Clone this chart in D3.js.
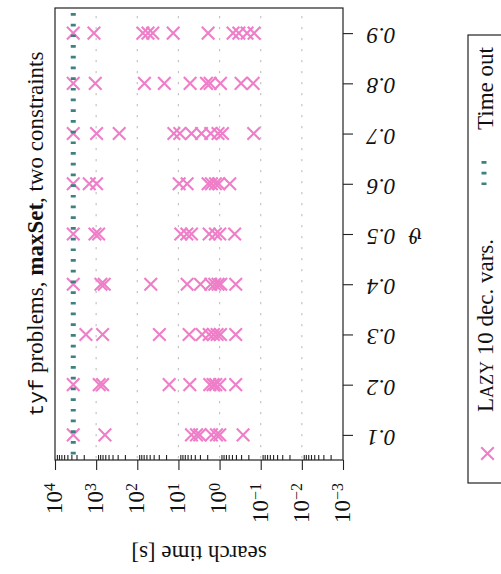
<!DOCTYPE html>
<html><head><meta charset="utf-8">
<script src="https://cdn.jsdelivr.net/npm/d3@7/dist/d3.min.js"></script>
<style>
body{margin:0;background:#fff;}
</style></head><body>
<svg id="chart" width="501" height="574" font-family="'Liberation Serif', 'Times New Roman', 'DejaVu Serif', serif"></svg>
<script>
// ---- data ----
const thetas = [0.1, 0.2, 0.3, 0.4, 0.5, 0.6, 0.7, 0.8, 0.9];
const thetaLabels = ["0.1", "0.2", "0.3", "0.4", "0.5", "0.6", "0.7", "0.8", "0.9"];
const timeExponents = [4, 3, 2, 1, 0, -1, -2, -3];
const timeoutSeconds = 3600;
const lazyTheta01 = [3600, 611, 4.82, 3.64, 3.03, 1.58, 1.19, 0.99, 0.268];
const lazyTheta02 = [3600, 840, 696, 16.8, 5.29, 1.73, 1.44, 1.24, 0.99, 0.405];
const lazyTheta03 = [1770, 696, 29, 5.5, 2.65, 1.79, 1.41, 1.15, 0.95, 0.405];
const lazyTheta04 = [3600, 764, 635, 47, 6.14, 2.91, 1.64, 1.31, 1.09, 0.935, 0.405];
const lazyTheta05 = [3600, 1070, 871, 8.75, 6.25, 4.82, 1.79, 1.26, 0.99, 0.43];
const lazyTheta06 = [3600, 1470, 975, 9.6, 6.14, 1.90, 1.58, 1.26, 1.05, 0.565];
const lazyTheta07 = [3600, 975, 275, 12.9, 9.25, 4.82, 2.75, 1.64, 1.09, 0.85, 0.148];
const lazyTheta08 = [3600, 1050, 67, 22, 5.2, 2.08, 1.7, 0.95, 0.30, 0.153];
const lazyTheta09 = [3600, 1130, 73, 55, 42, 13.4, 1.9, 0.47, 0.34, 0.215, 0.145];

const lazyRows = [lazyTheta01, lazyTheta02, lazyTheta03, lazyTheta04, lazyTheta05,
                  lazyTheta06, lazyTheta07, lazyTheta08, lazyTheta09];
const points = [];
lazyRows.forEach((row, i) => row.forEach(t => points.push({theta: thetas[i], time: t})));

// ---- layout ----
const PINK = "#ef7ec9", TEAL = "#3f8080", INK = "#222";
const svg = d3.select("#chart");
const L = 55, R = 343, T = 8, B = 460;
const x = d3.scaleLog().domain([1e4, 1e-3]).range([L, R]);
const y = d3.scaleLinear().domain([0.05, 0.95]).range([B, T]);

const decades = timeExponents.map(e => Math.pow(10, e));
const minors = [];
for (let e = -3; e < 4; e++) for (let k = 2; k <= 9; k++) minors.push(k * Math.pow(10, e));

// grid
svg.append("g").selectAll("line").data(decades.slice(1, -1)).join("line")
  .attr("x1", d => x(d)).attr("x2", d => x(d)).attr("y1", T).attr("y2", B)
  .attr("stroke", "#c4c4c4").attr("stroke-width", 1.2).attr("stroke-dasharray", "2.2 8.8")
  .attr("stroke-dashoffset", -8);

// markers
const cross = "M-6.3,-6.3L6.3,6.3M-6.3,6.3L6.3,-6.3";
svg.append("g").selectAll("path").data(points).join("path")
  .attr("transform", d => `translate(${x(d.time)},${y(d.theta)})`)
  .attr("d", cross).attr("fill", "none").attr("stroke", PINK).attr("stroke-width", 2.1);

// timeout line
svg.append("line")
  .attr("x1", x(timeoutSeconds)).attr("x2", x(timeoutSeconds))
  .attr("y1", y(0.95)).attr("y2", y(0.05))
  .attr("stroke", TEAL).attr("stroke-width", 5)
  .attr("stroke-dasharray", "2.7 8").attr("stroke-dashoffset", 5.7);

// axes
const gMaj = svg.append("g").attr("transform", `translate(0,${B})`)
  .call(d3.axisBottom(x).tickValues(decades).tickSize(10).tickFormat(""));
const gMin = svg.append("g").attr("transform", `translate(0,${B})`)
  .call(d3.axisBottom(x).tickValues(minors).tickSize(-5).tickFormat(""));
const gTh = svg.append("g").attr("transform", `translate(${R},0)`)
  .call(d3.axisRight(y).tickValues(thetas).tickSize(10).tickFormat(""));
[gMaj, gMin, gTh].forEach(g => {
  g.attr("font-family", null);
  g.select(".domain").remove();
  g.selectAll("line").attr("stroke", INK).attr("stroke-width", 1.1);
});

// frame
svg.append("rect").attr("x", L).attr("y", T).attr("width", R - L).attr("height", B - T)
  .attr("fill", "none").attr("stroke", INK).attr("stroke-width", 1.2);

// log tick labels (rotated, reading upward)
const tl = svg.append("g").selectAll("text").data(timeExponents).join("text")
  .attr("transform", e => `translate(${x(Math.pow(10, e)) + 6.8},483) rotate(-90)`)
  .attr("text-anchor", "end").attr("font-size", 23).attr("fill", "#111");
tl.append("tspan").text("10");
tl.append("tspan").attr("dy", "-0.42em").attr("font-size", 16)
  .text(e => e < 0 ? "\u2212" + (-e) : String(e));

// theta tick labels (upside down)
svg.append("g").selectAll("text").data(thetas).join("text")
  .attr("transform", (d) => `translate(381,${y(d)}) rotate(180)`)
  .attr("y", 5).attr("text-anchor", "middle").attr("font-size", 23)
  .attr("font-style", "italic").attr("fill", "#111")
  .text((d, i) => thetaLabels[i]);

// theta axis label
svg.append("text").attr("transform", `translate(415,${(T + B) / 2}) rotate(180)`)
  .attr("y", 6).attr("text-anchor", "middle").attr("font-size", 20)
  .attr("font-style", "italic").attr("font-family", "'DejaVu Serif', serif")
  .attr("fill", "#111").text("\u03d1");

// time axis label
svg.append("text").attr("transform", `translate(${(L + R) / 2},546) rotate(180)`)
  .attr("text-anchor", "middle").attr("font-size", 23).attr("fill", "#111")
  .text("search time [s]");

// title
const title = svg.append("text").attr("transform", `translate(43,${(T + B) / 2}) rotate(-90)`)
  .attr("text-anchor", "middle").attr("font-size", 23).attr("fill", "#111");
title.append("tspan").attr("font-family", "'Liberation Mono', 'DejaVu Sans Mono', monospace")
  .attr("font-size", 21).text("tyf");
title.append("tspan").text(" problems, ");
title.append("tspan").attr("font-weight", "bold").text("maxSet");
title.append("tspan").text(", two constraints");

// legend
const lg = svg.append("g");
lg.append("rect").attr("x", 468).attr("y", 35).attr("width", 60).attr("height", 448)
  .attr("fill", "#fff").attr("stroke", INK).attr("stroke-width", 1.2);
lg.append("path").attr("transform", "translate(487.5,453.5)").attr("d", cross)
  .attr("fill", "none").attr("stroke", PINK).attr("stroke-width", 2.1);
const t1 = lg.append("text").attr("transform", "translate(493,412) rotate(-90)")
  .attr("font-size", 23).attr("fill", "#111");
t1.append("tspan").text("L");
t1.append("tspan").attr("font-size", 18).text("AZY");
t1.append("tspan").text(" 10 dec. vars.");
lg.append("line").attr("x1", 484).attr("x2", 484).attr("y1", 161).attr("y2", 188)
  .attr("stroke", TEAL).attr("stroke-width", 5).attr("stroke-dasharray", "2.7 8");
lg.append("text").attr("transform", "translate(493,130) rotate(-90)")
  .attr("font-size", 23).attr("fill", "#111").text("Time out");
</script>
</body></html>
